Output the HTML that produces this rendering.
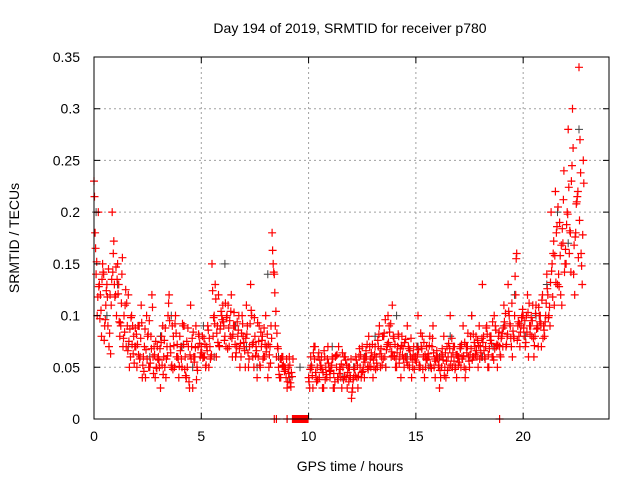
<!DOCTYPE html>
<html><head><meta charset="utf-8"><style>
body{margin:0;background:#fff}
svg{display:block;font-family:"Liberation Sans",sans-serif}
</style></head><body>
<svg id="chart" width="640" height="480" viewBox="0 0 640 480" xmlns="http://www.w3.org/2000/svg">
<rect width="640" height="480" fill="#fff"/>
<text x="350" y="33" font-size="14" text-anchor="middle">Day 194 of 2019, SRMTID for receiver p780</text>
<g id="grid"></g>
<g id="marks"></g>
<rect x="94" y="57" width="515" height="362" fill="none" stroke="#000" stroke-width="1"/>
<g id="ticks"></g>
<text x="350" y="471" font-size="14" text-anchor="middle">GPS time / hours</text>
<text x="19" y="238" font-size="14" text-anchor="middle" transform="rotate(-90 19 238)">SRMTID / TECUs</text>
</svg>
<script>
const xTicks=[0,5,10,15,20];
const yTicks=[0,0.05,0.1,0.15,0.2,0.25,0.3,0.35];
const yTickLabels=["0","0.05","0.1","0.15","0.2","0.25","0.3","0.35"];
const redA=[.23,.14,.2,.12,.15,.09,.13,.07,.11,.16,
.12,.15,.08,.14,.1,.07,.12,.06,.09,.07,
.05,.09,.11,.06,.04,.08,.05,.12,.07,.05,
.06,.03,.09,.05,.07,.12,.05,.08,.1,.06,
.08,.05,.09,.04,.07,.11,.03,.06,.05,.08,
.07,.06,.05,.09,.07,.15,.1,.06,.12,.09,
.11,.08,.1,.07,.12,.09,.06,.08,.05,.1,
.07,.11,.05,.13,.06,.08,.04,.09,.07,.06,
.1,.04,.07,.18,.14,.06,.05,.04,.06,.05,
.03,.06,.045,0,0,0,0,0,0,0,
.04,.06,.03,.07,.05,.04,.06,.03,.05,.07,
.04,.06,.03,.05,.07,.04,.05,.06,.03,.05,
.02,.04,.06,.03,.05,.07,.04,.06,.08,.05,
.04,.07,.05,.09,.06,.08,.05,.1,.07,.11,
.06,.05,.08,.04,.07,.06,.09,.05,.04,.07,
.06,.1,.05,.08,.04,.07,.06,.05,.09,.04,
.06,.03,.05,.08,.04,.06,.1,.05,.07,.04,
.06,.05,.09,.04,.07,.05,.1,.06,.08,.05,
.07,.13,.06,.09,.05,.08,.06,.09,.05,.07,
.08,.11,.07,.13,.09,.06,.1,.16,.08,.09,
.1,.07,.12,.09,.08,.06,.11,.07,.1,.12,
.08,.14,.1,.2,.16,.22,.13,.19,.11,.24,
.15,.28,.18,.3,.12,.21,.34,.16,.25];
const redB=[.18,.1,.13,.08,.14,.11,.09,.12,.2,.13,
.1,.13,.09,.07,.11,.09,.05,.1,.08,.07,
.09,.06,.04,.07,.1,.05,.08,.06,.04,.07,
.05,.08,.06,.04,.1,.07,.09,.05,.06,.04,
.07,.09,.06,.05,.03,.07,.06,.09,.07,.06,
.08,.06,.07,.05,.06,.08,.13,.09,.07,.1,
.09,.07,.11,.08,.06,.09,.07,.1,.06,.08,
.05,.09,.07,.1,.05,.07,.06,.05,.08,.06,
.07,.05,.09,.15,.09,.07,.04,.06,.05,.04,
.05,.035,0,0,0,0,0,0,0,0,
.03,.05,.07,.04,.06,.05,.03,.06,.04,.05,
.05,.03,.06,.04,.05,.03,.06,.04,.05,.04,
.03,.05,.04,.06,.04,.05,.06,.05,.07,.06,
.05,.06,.07,.05,.08,.06,.07,.09,.06,.08,
.05,.07,.06,.08,.05,.06,.07,.06,.05,.06,
.07,.05,.07,.06,.05,.06,.08,.07,.05,.06,
.05,.04,.06,.05,.07,.05,.06,.07,.05,.06,
.07,.06,.05,.07,.06,.08,.06,.07,.06,.09,
.06,.08,.07,.05,.08,.06,.1,.07,.08,.06,
.07,.09,.08,.1,.07,.08,.12,.09,.07,.1,
.08,.1,.06,.09,.11,.08,.09,.1,.07,.09,
.1,.12,.09,.15,.11,.18,.14,.12,.17,.15,
.2,.16,.23,.14,.18,.22,.27,.13];
const redC=[.215,.152,.128,.105,.142,.096,.118,.083,.135,.172,
.147,.121,.093,.156,.084,.112,.075,.098,.063,.088,
.072,.058,.093,.046,.067,.082,.054,.108,.062,.049,
.057,.074,.043,.088,.061,.095,.052,.071,.083,.058,
.066,.092,.048,.075,.036,.058,.084,.069,.047,.073,
.064,.078,.052,.086,.058,.124,.092,.083,.071,.104,
.094,.112,.068,.095,.078,.103,.064,.086,.073,.092,
.066,.082,.058,.105,.074,.061,.093,.052,.076,.088,
.065,.072,.054,.163,.122,.083,.043,.058,.052,.048,
.036,.052,.041,0,0,0,0,0,0,0,
.036,.052,.064,.045,.038,.057,.048,.066,.043,.054,
.047,.058,.036,.062,.044,.053,.038,.057,.045,.042,
.026,.048,.057,.041,.062,.046,.055,.072,.051,.064,
.057,.048,.076,.063,.052,.083,.067,.074,.092,.061,
.072,.064,.054,.071,.058,.077,.052,.066,.058,.048,
.055,.067,.083,.048,.062,.057,.071,.049,.064,.056,
.058,.047,.068,.042,.056,.073,.052,.064,.048,.062,
.055,.072,.061,.048,.083,.062,.057,.074,.066,.071,
.064,.074,.058,.082,.068,.073,.057,.086,.071,.062,
.083,.094,.072,.104,.078,.085,.138,.076,.092,.098,
.088,.074,.103,.082,.095,.071,.087,.108,.092,.078,
.094,.126,.108,.143,.172,.132,.205,.158,.184,.142,
.188,.224,.142,.262,.176,.215,.192,.148,.228];
const redD=[.165,.118,.097,.135,.076,.124,.145,.063,.142,.118,
.135,.094,.112,.078,.125,.066,.087,.072,.054,.082,
.062,.078,.052,.087,.058,.095,.068,.044,.075,.058,
.068,.052,.076,.058,.112,.064,.048,.092,.072,.051,
.058,.072,.042,.088,.062,.078,.055,.038,.082,.064,
.059,.072,.066,.078,.062,.098,.116,.074,.087,.096,
.076,.098,.088,.104,.082,.072,.094,.068,.083,.074,
.078,.064,.092,.072,.098,.066,.075,.084,.058,.072,
.082,.062,.078,.142,.104,.068,.058,.051,.046,.058,
.044,.031,.058,0,0,0,0,0,0,0,
.048,.042,.058,.036,.064,.052,.045,.038,.058,.046,
.052,.044,.061,.038,.048,.064,.041,.052,.036,.058,
.038,.042,.052,.068,.045,.058,.066,.048,.058,.072,
.062,.054,.082,.068,.058,.096,.072,.084,.065,.078,
.058,.082,.068,.062,.074,.055,.068,.078,.062,.057,
.062,.052,.068,.074,.058,.063,.052,.078,.058,.066,
.052,.062,.057,.064,.047,.068,.078,.056,.062,.052,
.068,.058,.074,.064,.056,.068,.082,.062,.076,.058,
.078,.066,.088,.062,.076,.094,.068,.072,.084,.078,
.088,.102,.082,.092,.112,.078,.155,.094,.084,.106,
.095,.084,.112,.098,.078,.102,.088,.094,.115,.086,
.112,.098,.132,.118,.158,.186,.128,.168,.212,.164,
.198,.182,.245,.168,.208,.156,.238,.178];
const black=[.2,.1,.13,.07,.09,.06,.08,.1,.07,.05,.09,.06,.15,.09,.07,.05,.14,.06,.04,.05,.05,.06,.07,.04,.05,.06,.08,.05,.1,.06,.07,.05,.06,.08,.07,.1,.06,.07,.09,.12,.08,.1,.13,.2,.17,.28];
const zeroTimes=[8.4,8.5,9.0,18.9];

const X0=94,X1=609,Y0=419,Y1=57,XMAX=24,YMAX=0.35;
const sx=t=>X0+(X1-X0)*t/XMAX;
const sy=v=>Y0-(Y0-Y1)*v/YMAX;
const NS="http://www.w3.org/2000/svg";
const grid=document.getElementById('grid'),ticks=document.getElementById('ticks'),marks=document.getElementById('marks');
function mk(tag,attrs,parent){const e=document.createElementNS(NS,tag);for(const k in attrs)e.setAttribute(k,attrs[k]);parent.appendChild(e);return e;}
xTicks.forEach((t,i)=>{
  const x=sx(t);
  if(i>0){const g=mk('line',{x1:x,x2:x,y1:Y0,y2:Y1,stroke:'#a0a0a0','stroke-dasharray':'2,3'},grid);
  
  }
  const tk=mk('path',{d:`M${x} ${Y0}v-6M${x} ${Y1}v6`,stroke:'#000'},ticks);
  
  
  const l=mk('text',{x:x,y:Y0+22,'font-size':14,'text-anchor':'middle'},ticks);l.textContent=t;
  
  
});
yTicks.forEach((v,i)=>{
  const y=sy(v);
  if(i>0&&i<yTicks.length-1){const g=mk('line',{x1:X0,x2:X1,y1:y,y2:y,stroke:'#a0a0a0','stroke-dasharray':'2,3'},grid);
  
  }
  const tk=mk('path',{d:`M${X0} ${y}h6M${X1} ${y}h-6`,stroke:'#000'},ticks);
  
  
  const l=mk('text',{x:X0-14,y:y+5,'font-size':14,'text-anchor':'end'},ticks);l.textContent=yTickLabels[i];
  
  
});
function plusD(t,v){const x=+sx(t).toFixed(1),y=+sy(v).toFixed(1);return `M${x-4} ${y}h8M${x} ${y-4}v8`;}
let db='';black.forEach((v,i)=>{db+=plusD(i*0.5+0.1,v);});
const pb=mk('path',{d:db,stroke:'#404040','stroke-width':1,fill:'none'},marks);


let dr='';
redA.forEach((v,i)=>{dr+=plusD(i*0.1,v);});
redB.forEach((v,i)=>{dr+=plusD(i*0.1+0.05,v);});
redC.forEach((v,i)=>{dr+=plusD(i*0.1+0.025,v);});
redD.forEach((v,i)=>{dr+=plusD(i*0.1+0.075,v);});
zeroTimes.forEach(t=>{dr+=plusD(t,0);});
const pr=mk('path',{d:dr,stroke:'#ff0000','stroke-width':1.2,fill:'none'},marks);


</script>
</body></html>
